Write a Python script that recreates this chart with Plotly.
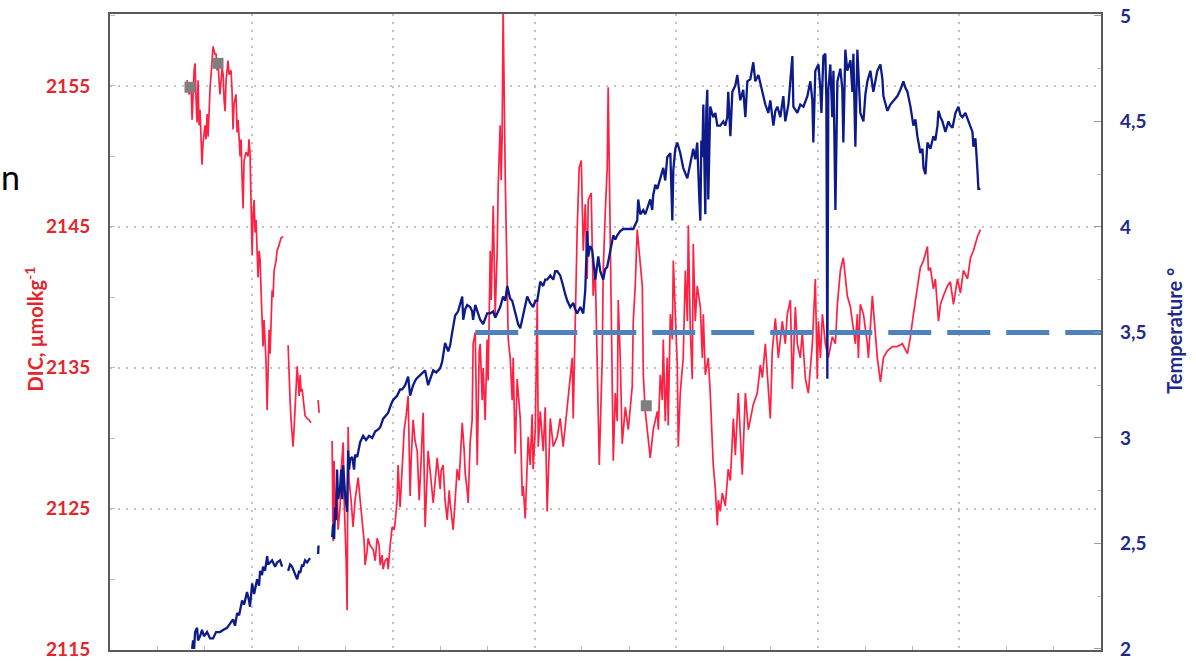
import plotly.graph_objects as go

# ---- DIC record (µmol/kg), time in days; separate logging segments ----
dic_day_1 = [0.544, 0.558, 0.572, 0.580, 0.594, 0.601, 0.608, 0.615, 0.622, 0.629,
             0.636, 0.650, 0.657, 0.671, 0.678, 0.686, 0.693, 0.700, 0.707, 0.714,
             0.728, 0.742, 0.749, 0.756, 0.763, 0.770, 0.777, 0.792, 0.799, 0.806,
             0.813, 0.820, 0.834, 0.841, 0.855, 0.862, 0.869, 0.876, 0.890, 0.898,
             0.905, 0.919, 0.926, 0.933, 0.940, 0.947, 0.961, 0.975, 0.982, 0.989,
             0.996, 1.004, 1.011, 1.018, 1.025, 1.032, 1.039, 1.046, 1.053, 1.060,
             1.067, 1.074, 1.081, 1.088, 1.095, 1.102, 1.110, 1.117, 1.124, 1.131,
             1.138, 1.145, 1.152, 1.159, 1.173, 1.180, 1.194, 1.208, 1.223]
dic_1 = [2155.4, 2154.4, 2155.2, 2152.6, 2156.1, 2156.6, 2154.0, 2152.4, 2155.4, 2152.2,
         2153.3, 2149.4, 2150.9, 2152.2, 2151.2, 2153.0, 2151.4, 2154.0, 2154.9, 2155.8,
         2157.8, 2157.2, 2157.3, 2156.1, 2156.8, 2155.4, 2154.4, 2156.3, 2155.8, 2154.0,
         2153.2, 2155.4, 2156.8, 2155.8, 2156.1, 2154.7, 2151.9, 2153.7, 2154.4, 2151.7,
         2152.6, 2150.0, 2151.2, 2148.4, 2146.3, 2149.7, 2150.3, 2150.0, 2151.2, 2150.3,
         2146.9, 2143.0, 2146.0, 2146.9, 2144.6, 2145.5, 2143.3, 2141.4, 2143.3, 2142.7,
         2140.5, 2137.7, 2136.5, 2138.4, 2136.7, 2135.5, 2132.0, 2134.1, 2137.7, 2136.0,
         2139.4, 2140.5, 2140.0, 2141.9, 2142.6, 2143.3, 2143.7, 2144.2, 2144.3]

dic_day_2 = [1.258, 1.265, 1.272, 1.279, 1.293, 1.300, 1.307, 1.322, 1.329, 1.336,
             1.343, 1.350, 1.357, 1.364, 1.371, 1.378, 1.392, 1.406, 1.420]
dic_2 = [2136.6, 2134.1, 2132.7, 2131.3, 2129.4, 2130.6, 2132.0, 2135.1, 2134.1, 2133.0,
         2134.5, 2133.3, 2133.5, 2132.7, 2132.0, 2131.6, 2131.4, 2131.3, 2131.1]

dic_day_3 = [1.470, 1.477]
dic_3 = [2132.7, 2131.8]

dic_day_4 = [1.569, 1.576, 1.583, 1.590, 1.604, 1.611, 1.625, 1.633, 1.647, 1.654,
             1.668, 1.675, 1.682, 1.689, 1.703, 1.717, 1.731, 1.753, 1.767, 1.781,
             1.795, 1.802, 1.816, 1.823, 1.837, 1.859, 1.873, 1.887, 1.901, 1.908,
             1.922, 1.929, 1.943, 1.958, 1.965, 1.979, 1.993, 2.007, 2.014, 2.028,
             2.035, 2.049, 2.064, 2.078, 2.092, 2.106, 2.120, 2.127, 2.141, 2.155,
             2.170, 2.184, 2.191, 2.205, 2.212, 2.226, 2.240, 2.247, 2.261, 2.283,
             2.297, 2.311, 2.332, 2.339, 2.353, 2.367, 2.382, 2.396, 2.403, 2.417,
             2.424, 2.438, 2.452, 2.466, 2.488, 2.502, 2.509, 2.523, 2.530, 2.544,
             2.558, 2.565, 2.580, 2.594, 2.608, 2.615, 2.629, 2.636, 2.650, 2.664,
             2.671, 2.686, 2.693, 2.707, 2.714, 2.721, 2.735, 2.742, 2.756, 2.763,
             2.770, 2.777, 2.792, 2.806, 2.813, 2.827, 2.841, 2.848, 2.862, 2.876,
             2.898, 2.912, 2.919, 2.933, 2.947, 2.954, 2.968, 2.982, 2.989, 3.004,
             3.018, 3.025, 3.039, 3.060, 3.074, 3.088, 3.110, 3.131, 3.159, 3.180,
             3.201, 3.230, 3.251, 3.265, 3.272, 3.286, 3.300, 3.314, 3.329, 3.343,
             3.357, 3.371, 3.378, 3.399, 3.413, 3.428, 3.442, 3.456, 3.477, 3.484,
             3.498, 3.512, 3.519, 3.534, 3.548, 3.555, 3.569, 3.583, 3.590, 3.604,
             3.618, 3.640, 3.661, 3.689, 3.696, 3.710, 3.724, 3.731, 3.746, 3.760,
             3.767, 3.781, 3.795, 3.816, 3.830, 3.837, 3.866, 3.873, 3.887, 3.901,
             3.908, 3.922, 3.936, 3.943, 3.958, 3.972, 3.979, 3.993, 4.007, 4.014,
             4.028, 4.049, 4.064, 4.078, 4.085, 4.099, 4.113, 4.120, 4.134, 4.148,
             4.170, 4.184, 4.191, 4.205, 4.226, 4.240, 4.254, 4.261, 4.276, 4.290,
             4.297, 4.311, 4.325, 4.346, 4.367, 4.382, 4.403, 4.417, 4.438, 4.466,
             4.488, 4.509, 4.544, 4.572, 4.594, 4.608, 4.629, 4.650, 4.664, 4.678,
             4.700, 4.721, 4.749, 4.770, 4.784, 4.806, 4.820, 4.841, 4.855, 4.876,
             4.890, 4.912, 4.933, 4.961, 4.982, 4.996, 5.004, 5.018, 5.032, 5.053,
             5.074, 5.102, 5.124, 5.138, 5.159, 5.180, 5.194, 5.208, 5.230, 5.244,
             5.265, 5.279, 5.286, 5.300, 5.322, 5.350, 5.357, 5.385, 5.399, 5.420,
             5.442, 5.463, 5.491, 5.527, 5.562, 5.597, 5.633, 5.654, 5.675, 5.703,
             5.724, 5.746, 5.774, 5.781, 5.795, 5.816, 5.830, 5.852, 5.866, 5.887,
             5.915, 5.936, 5.958, 5.986, 6.007, 6.028, 6.057, 6.078, 6.099, 6.113,
             6.127, 6.148]
dic_4 = [2129.8, 2122.7, 2128.4, 2124.2, 2127.0, 2123.5, 2125.1, 2127.7, 2129.7, 2125.6,
         2121.3, 2117.8, 2130.8, 2127.0, 2125.6, 2123.7, 2125.6, 2127.2, 2125.6, 2124.2,
         2122.7, 2121.0, 2122.0, 2122.9, 2122.4, 2122.1, 2121.3, 2122.9, 2122.4, 2121.0,
         2121.7, 2120.7, 2121.3, 2121.5, 2120.7, 2122.4, 2123.7, 2123.5, 2124.0, 2125.6,
         2128.1, 2125.1, 2127.7, 2130.6, 2131.6, 2133.0, 2125.9, 2128.4, 2131.3, 2129.8,
         2129.1, 2125.6, 2127.0, 2129.8, 2131.8, 2123.7, 2127.0, 2129.1, 2127.7, 2125.4,
         2127.0, 2128.6, 2126.4, 2127.7, 2128.1, 2125.6, 2124.2, 2126.3, 2125.4, 2124.2,
         2123.5, 2125.6, 2127.8, 2127.0, 2131.1, 2129.1, 2127.5, 2126.3, 2125.4, 2129.7,
         2131.3, 2136.7, 2137.5, 2128.1, 2136.2, 2136.7, 2132.7, 2135.0, 2131.3, 2137.0,
         2134.1, 2143.3, 2139.8, 2146.5, 2142.6, 2138.8, 2143.3, 2147.9, 2152.2, 2148.3,
         2151.4, 2160.4, 2148.4, 2140.8, 2137.0, 2135.7, 2132.7, 2135.7, 2128.9, 2134.2,
         2131.4, 2125.9, 2126.6, 2124.3, 2127.4, 2130.1, 2128.1, 2131.7, 2127.8, 2130.6,
         2139.8, 2129.4, 2131.9, 2129.1, 2132.2, 2124.8, 2131.4, 2129.4, 2130.1, 2131.4,
         2129.4, 2132.2, 2134.2, 2135.7, 2131.4, 2139.5, 2144.8, 2149.2, 2149.7, 2143.3,
         2146.6, 2141.3, 2146.9, 2147.4, 2140.1, 2141.9, 2135.7, 2128.1, 2135.7, 2141.9,
         2145.9, 2149.2, 2154.9, 2143.3, 2135.7, 2128.4, 2133.2, 2131.2, 2139.8, 2135.7,
         2129.6, 2132.2, 2130.6, 2133.7, 2138.3, 2140.8, 2144.8, 2144.1, 2142.4, 2140.8,
         2134.5, 2131.9, 2130.6, 2128.6, 2129.9, 2130.6, 2131.9, 2130.6, 2134.5, 2132.7,
         2137.0, 2131.2, 2135.7, 2130.9, 2138.8, 2137.0, 2142.6, 2138.8, 2135.2, 2129.4,
         2133.2, 2135.7, 2141.9, 2138.3, 2145.1, 2137.7, 2134.2, 2143.8, 2138.3, 2140.8,
         2139.3, 2135.7, 2138.8, 2134.5, 2135.7, 2133.2, 2129.6, 2128.1, 2126.4, 2123.8,
         2125.6, 2124.8, 2126.1, 2125.2, 2127.8, 2127.0, 2131.4, 2128.8, 2133.2, 2127.4,
         2133.2, 2130.6, 2132.4, 2133.2, 2135.2, 2134.3, 2136.7, 2133.7, 2131.4, 2136.2,
         2138.5, 2135.7, 2138.3, 2136.7, 2138.8, 2139.8, 2133.5, 2139.3, 2136.7, 2135.7,
         2137.5, 2134.2, 2133.2, 2136.7, 2141.3, 2134.2, 2138.3, 2135.7, 2138.8, 2136.7,
         2135.7, 2137.2, 2136.7, 2139.5, 2141.9, 2142.8, 2141.3, 2140.1, 2139.3, 2138.3,
         2136.7, 2138.8, 2135.7, 2139.5, 2138.8, 2136.7, 2135.7, 2140.1, 2138.3, 2135.7,
         2134.0, 2135.7, 2136.2, 2136.5, 2136.5, 2136.7, 2136.0, 2137.2, 2138.8, 2140.8,
         2142.1, 2142.6, 2143.6, 2141.9, 2142.1, 2140.6, 2141.3, 2138.3, 2139.5, 2140.1,
         2140.8, 2141.1, 2139.5, 2141.3, 2140.3, 2141.9, 2141.3, 2142.8, 2143.3, 2143.8,
         2144.3, 2144.8]

# ---- Temperature record (°C) ----
temp_day_1 = [0.580, 0.587, 0.594, 0.601, 0.615, 0.622, 0.636, 0.650, 0.664, 0.686,
              0.707, 0.728, 0.749, 0.777, 0.799, 0.827, 0.848, 0.869, 0.883, 0.898,
              0.912, 0.933, 0.947, 0.968, 0.982, 0.989, 1.004, 1.018, 1.039, 1.053,
              1.060, 1.074, 1.081, 1.095, 1.110, 1.117, 1.131, 1.145, 1.166, 1.180,
              1.201, 1.216]
temp_1 = [2.00, 2.04, 2.00, 2.08, 2.10, 2.04, 2.06, 2.09, 2.06, 2.08,
          2.05, 2.05, 2.08, 2.08, 2.09, 2.10, 2.12, 2.14, 2.11, 2.17,
          2.16, 2.23, 2.21, 2.27, 2.23, 2.20, 2.31, 2.26, 2.33, 2.30,
          2.37, 2.35, 2.39, 2.37, 2.44, 2.40, 2.41, 2.42, 2.39, 2.41,
          2.42, 2.39]

temp_day_2 = [1.258, 1.272, 1.286, 1.307, 1.322, 1.336, 1.343, 1.357, 1.364, 1.378,
              1.392, 1.413]
temp_2 = [2.37, 2.40, 2.39, 2.35, 2.33, 2.37, 2.36, 2.40, 2.39, 2.42, 2.41, 2.43]

temp_day_3 = [1.470, 1.473]
temp_3 = [2.45, 2.49]

temp_day_4 = [1.569, 1.576, 1.583, 1.590, 1.597, 1.604, 1.611, 1.618, 1.625, 1.633,
              1.640, 1.647, 1.654, 1.661, 1.675, 1.682, 1.689, 1.696, 1.710, 1.724,
              1.731, 1.746, 1.767, 1.788, 1.809, 1.830, 1.852, 1.873, 1.894, 1.908,
              1.929, 1.951, 1.965, 1.986, 2.000, 2.014, 2.028, 2.049, 2.064, 2.085,
              2.106, 2.120, 2.141, 2.163, 2.191, 2.212, 2.226, 2.247, 2.269, 2.283,
              2.304, 2.318, 2.332, 2.346, 2.367, 2.389, 2.403, 2.417, 2.438, 2.459,
              2.473, 2.488, 2.495, 2.509, 2.523, 2.544, 2.558, 2.565, 2.580, 2.594,
              2.615, 2.636, 2.650, 2.664, 2.686, 2.707, 2.721, 2.735, 2.756, 2.777,
              2.792, 2.806, 2.827, 2.841, 2.862, 2.883, 2.898, 2.919, 2.933, 2.947,
              2.968, 2.989, 3.004, 3.018, 3.039, 3.060, 3.074, 3.088, 3.110, 3.131,
              3.145, 3.159, 3.180, 3.194, 3.201, 3.216, 3.230, 3.251, 3.272, 3.286,
              3.300, 3.322, 3.343, 3.357, 3.371, 3.378, 3.392, 3.406, 3.428, 3.449,
              3.463, 3.484, 3.498, 3.512, 3.534, 3.555, 3.569, 3.583, 3.604, 3.625,
              3.654, 3.675, 3.696, 3.724, 3.731, 3.746, 3.767, 3.781, 3.795, 3.816,
              3.830, 3.837, 3.852, 3.866, 3.887, 3.908, 3.922, 3.936, 3.958, 3.972,
              3.979, 3.993, 4.007, 4.028, 4.049, 4.064, 4.078, 4.099, 4.120, 4.134,
              4.148, 4.163, 4.170, 4.177, 4.184, 4.191, 4.205, 4.212, 4.219, 4.226,
              4.240, 4.261, 4.276, 4.290, 4.311, 4.332, 4.346, 4.360, 4.367, 4.382,
              4.396, 4.417, 4.431, 4.452, 4.473, 4.488, 4.502, 4.523, 4.544, 4.558,
              4.580, 4.608, 4.629, 4.650, 4.664, 4.686, 4.700, 4.714, 4.735, 4.756,
              4.770, 4.792, 4.820, 4.827, 4.855, 4.876, 4.898, 4.926, 4.947, 4.961,
              4.968, 4.982, 5.004, 5.018, 5.025, 5.039, 5.053, 5.060, 5.067, 5.074,
              5.088, 5.102, 5.110, 5.124, 5.138, 5.159, 5.173, 5.180, 5.194, 5.208,
              5.230, 5.244, 5.251, 5.265, 5.279, 5.286, 5.300, 5.322, 5.336, 5.350,
              5.371, 5.392, 5.406, 5.420, 5.442, 5.456, 5.463, 5.477, 5.491, 5.512,
              5.534, 5.562, 5.583, 5.604, 5.618, 5.633, 5.654, 5.675, 5.689, 5.703,
              5.724, 5.739, 5.746, 5.760, 5.774, 5.795, 5.816, 5.830, 5.845, 5.852,
              5.866, 5.880, 5.901, 5.922, 5.936, 5.951, 5.972, 5.993, 6.007, 6.021,
              6.042, 6.064, 6.078, 6.092, 6.099, 6.113, 6.127, 6.134, 6.148]
temp_4 = [2.53, 2.59, 2.52, 2.67, 2.61, 2.85, 2.71, 2.75, 2.76, 2.85,
          2.71, 2.87, 2.80, 2.73, 2.65, 2.94, 2.85, 2.90, 2.91, 2.85,
          2.92, 2.91, 2.98, 3.01, 2.99, 3.01, 3.00, 3.03, 3.04, 3.05,
          3.09, 3.11, 3.12, 3.16, 3.18, 3.19, 3.20, 3.23, 3.23, 3.25,
          3.29, 3.20, 3.25, 3.28, 3.30, 3.31, 3.32, 3.25, 3.30, 3.32,
          3.31, 3.32, 3.33, 3.36, 3.45, 3.41, 3.44, 3.50, 3.58, 3.60,
          3.63, 3.67, 3.56, 3.61, 3.63, 3.62, 3.60, 3.56, 3.63, 3.60,
          3.56, 3.54, 3.57, 3.59, 3.59, 3.60, 3.57, 3.59, 3.62, 3.67,
          3.65, 3.72, 3.66, 3.65, 3.60, 3.54, 3.52, 3.59, 3.63, 3.67,
          3.64, 3.62, 3.65, 3.65, 3.74, 3.72, 3.75, 3.75, 3.77, 3.75,
          3.79, 3.79, 3.77, 3.74, 3.72, 3.68, 3.65, 3.62, 3.64, 3.61,
          3.59, 3.62, 3.59, 3.70, 3.98, 3.86, 3.91, 3.89, 3.75, 3.86,
          3.79, 3.75, 3.80, 3.81, 3.89, 3.96, 3.94, 3.96, 3.98, 3.99,
          3.99, 3.99, 3.99, 4.03, 4.13, 4.06, 4.08, 4.06, 4.09, 4.13,
          4.08, 4.15, 4.20, 4.18, 4.23, 4.28, 4.22, 4.33, 4.35, 4.03,
          4.27, 4.37, 4.40, 4.35, 4.28, 4.25, 4.23, 4.30, 4.37, 4.32,
          4.40, 4.13, 4.03, 4.41, 4.33, 4.58, 4.06, 4.55, 4.65, 4.13,
          4.57, 4.52, 4.54, 4.48, 4.48, 4.50, 4.48, 4.52, 4.64, 4.43,
          4.64, 4.67, 4.72, 4.60, 4.65, 4.52, 4.69, 4.70, 4.78, 4.69,
          4.72, 4.64, 4.58, 4.54, 4.60, 4.48, 4.55, 4.57, 4.52, 4.62,
          4.50, 4.58, 4.81, 4.57, 4.54, 4.58, 4.57, 4.62, 4.69, 4.60,
          4.40, 4.74, 4.77, 4.65, 4.54, 4.81, 4.82, 4.60, 3.28, 4.65,
          4.77, 4.52, 4.74, 4.08, 4.69, 4.75, 4.65, 4.40, 4.84, 4.74,
          4.79, 4.64, 4.82, 4.38, 4.84, 4.74, 4.54, 4.50, 4.63, 4.69,
          4.74, 4.64, 4.70, 4.74, 4.77, 4.70, 4.62, 4.58, 4.55, 4.58,
          4.60, 4.62, 4.65, 4.69, 4.66, 4.64, 4.57, 4.48, 4.51, 4.43,
          4.35, 4.37, 4.28, 4.25, 4.40, 4.37, 4.43, 4.41, 4.48, 4.55,
          4.52, 4.50, 4.45, 4.50, 4.48, 4.47, 4.54, 4.57, 4.53, 4.52,
          4.54, 4.50, 4.48, 4.45, 4.38, 4.42, 4.27, 4.18, 4.18]

# discrete bottle samples (DIC)
sample_day = [0.565, 0.763, 3.788]
sample_dic = [2154.9, 2156.6, 2132.3]

# temperature threshold line
threshold_day = [2.58, 7.0]
threshold_temp = 3.5

dic_ticks = [2115, 2125, 2135, 2145, 2155]
temp_ticks = [2, 2.5, 3, 3.5, 4, 4.5, 5]
temp_tick_text = ["2", "2,5", "3", "3,5", "4", "4,5", "5"]


def join_segments(*pairs):
    """Concatenate (x, y) segments, leaving a gap between consecutive ones."""
    xs, ys = [], []
    for i, (sx, sy) in enumerate(pairs):
        if i:
            xs.append(None)
            ys.append(None)
        n = min(len(sx), len(sy))
        xs.extend(sx[:n])
        ys.extend(sy[:n])
    return xs, ys


dic_x, dic_y = join_segments((dic_day_1, dic_1), (dic_day_2, dic_2),
                             (dic_day_3, dic_3), (dic_day_4, dic_4))
temp_x, temp_y = join_segments((temp_day_1, temp_1), (temp_day_2, temp_2),
                               (temp_day_3, temp_3), (temp_day_4, temp_4))

RED = "#ff2143"
NAVY = "#0c1a8a"
RED_TEXT = "#e4262c"
NAVY_TEXT = "#1f2a8c"
GRID = "#c4c4c4"
FRAME = "#5a5a5a"

fig = go.Figure()
fig.add_trace(go.Scatter(x=dic_x, y=dic_y, mode="lines", connectgaps=False,
                         line=dict(color=RED, width=1.7), name="DIC"))
fig.add_trace(go.Scatter(x=temp_x, y=temp_y, mode="lines", connectgaps=False,
                         yaxis="y2", line=dict(color=NAVY, width=2.3),
                         name="Temperature"))
fig.add_trace(go.Scatter(x=threshold_day, y=[threshold_temp] * len(threshold_day),
                         mode="lines", yaxis="y2",
                         line=dict(color="#4f81bd", width=5, dash="43px,16px"),
                         name="threshold"))
fig.add_trace(go.Scatter(x=sample_day, y=sample_dic, mode="markers",
                         marker=dict(symbol="square", size=11, color="#7f7f7f"),
                         name="samples"))

tick_font = dict(family="Lato", size=19, weight="bold")
title_font = dict(family="Lato", size=20, weight="bold")

fig.update_layout(
    width=1196, height=661,
    margin=dict(l=110, r=95, t=14, b=11),
    paper_bgcolor="white", plot_bgcolor="white",
    showlegend=False,
    xaxis=dict(range=[0, 7], tick0=0, dtick=1, showticklabels=False,
               showgrid=True, gridcolor=GRID, griddash="2px,6px", gridwidth=1.5,
               showline=True, linecolor=FRAME, linewidth=2, mirror=True,
               zeroline=False, ticks="", automargin=False,
               minor=dict(tick0=0, dtick=1 / 3, ticks="inside", ticklen=4,
                          tickcolor="#bdbdbd", showgrid=False)),
    yaxis=dict(range=[2114.97, 2160.1], tickvals=dic_ticks,
               showgrid=True, gridcolor=GRID, griddash="2px,6px", gridwidth=1.5,
               showline=True, linecolor=FRAME, linewidth=2, mirror=True,
               zeroline=False, ticks="inside", ticklen=5, tickcolor="#bdbdbd",
               automargin=False,
               minor=dict(tick0=2115, dtick=5, ticks="inside", ticklen=5,
                          tickcolor="#bdbdbd", showgrid=False),
               tickfont=dict(color=RED_TEXT, **tick_font), ticklabelstandoff=14),
    yaxis2=dict(overlaying="y", side="right", range=[1.995, 5.009],
                tickvals=temp_ticks, ticktext=temp_tick_text,
                showgrid=False, showline=False, zeroline=False,
                ticks="inside", ticklen=7, tickcolor="#9a9a9a", automargin=False,
                minor=dict(dtick=0.25, ticks="inside", ticklen=4, tickcolor="#bdbdbd"),
                tickfont=dict(color=NAVY_TEXT, **tick_font), ticklabelstandoff=18),
    annotations=[
        dict(text="DIC, µmolkg<sup>-1</sup>", xref="paper", yref="paper",
             x=-0.077, y=0.505, textangle=-90, showarrow=False,
             xanchor="center", yanchor="middle",
             font=dict(color=RED_TEXT, **title_font)),
        dict(text="Temperature °", xref="paper", yref="paper",
             x=1.0737, y=0.502, textangle=-90, showarrow=False,
             xanchor="center", yanchor="middle",
             font=dict(color=NAVY_TEXT, **title_font)),
        dict(text="n", xref="paper", yref="paper",
             x=-0.1009, y=0.745, showarrow=False,
             xanchor="center", yanchor="middle",
             font=dict(family="Lato", size=34, color="black")),
    ],
)

fig.write_html("out.html")
